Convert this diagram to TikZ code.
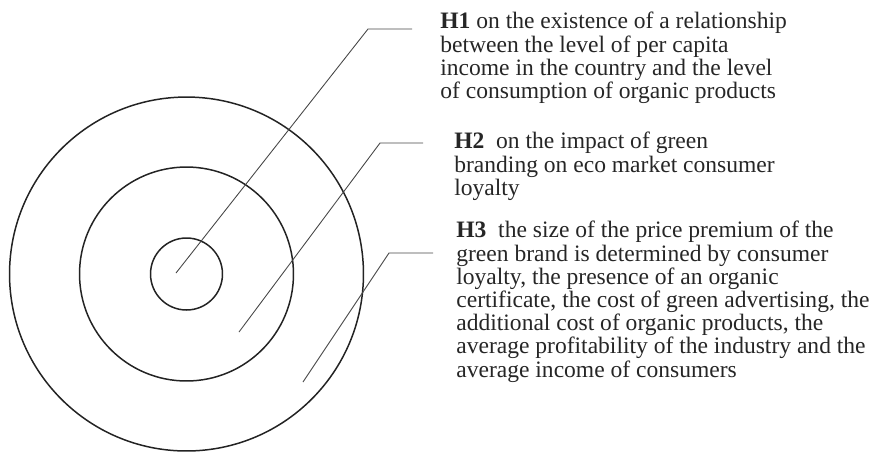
\documentclass[tikz,border=0pt]{standalone}
\usepackage{fontspec}
\setmainfont{Liberation Serif}
\usetikzlibrary{positioning}

\begin{document}
\begin{tikzpicture}[x=0.02cm, y=-0.02cm, every node/.style={font=\fontsize{13.4}{13.2}\selectfont}]
		% Colours
		\definecolor{ringline}{RGB}{35, 35, 35}
		\definecolor{leadline}{RGB}{70, 70, 70}

		% Styles
		\tikzstyle{ring} = [circle, draw=ringline, line width=0.85pt, inner sep=0pt]
		\tikzstyle{leader} = [draw=leadline, line width=0.5pt]
		\tikzstyle{hypo} = [anchor=north west, inner sep=0pt, align=left, text=black!85]

		\useasboundingbox (0,0) rectangle (875,451);

		% Target rings
		\coordinate (centre) at (186.5,274);
		\node[ring, minimum size=7.08cm] (outer) at (centre) {};
		\node[ring, minimum size=4.28cm] (middle) at (centre) {};
		\node[ring, minimum size=1.44cm] (core) at (centre) {};

		% Hypothesis texts
		\node[hypo] (h1) at (440,12) {\textbf{H1} on the existence of a relationship\\between the level of per capita\\income in the country and the level\\of consumption of organic products};
		\node[hypo] (h2) at (454,132) {\textbf{H2}\ \ on the impact of green\\branding on eco\ market consumer\\loyalty};
		\node[hypo] (h3) at (456,221) {\textbf{H3}\ \ the size of the price premium of the\\green brand is determined by consumer\\loyalty, the presence of an organic\\certificate, the cost of green advertising, the\\additional cost of organic products, the\\average profitability of the industry and the\\average income of consumers};

		% Leader lines from each ring
		\coordinate (tip1) at (176,273);
		\coordinate (knee1) at (368,29);
		\coordinate (tip2) at (239,332);
		\coordinate (knee2) at (380,143);
		\coordinate (tip3) at (303,382);
		\coordinate (knee3) at (389,253);

		\draw[leader] (tip1) -- (knee1) -- ([xshift=-0.56cm]h1.west |- knee1);
		\draw[leader] (tip2) -- (knee2) -- ([xshift=-0.62cm]h2.west |- knee2);
		\draw[leader] (tip3) -- (knee3) -- ([xshift=-0.46cm]h3.west |- knee3);

	\end{tikzpicture}
\end{document}
